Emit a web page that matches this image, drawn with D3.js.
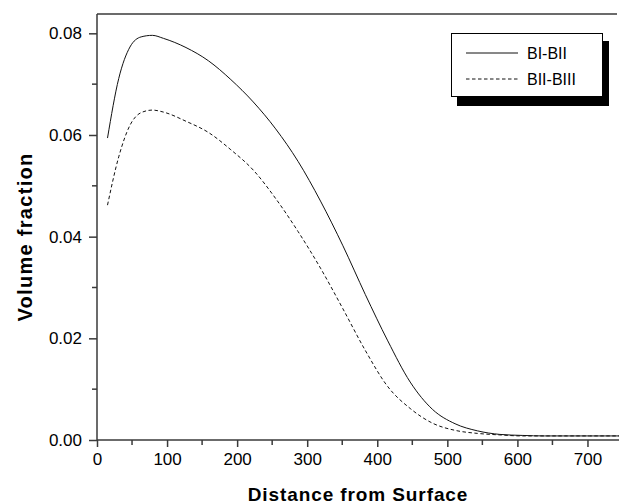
<!DOCTYPE html>
<html>
<head>
<meta charset="utf-8">
<script src="https://cdn.jsdelivr.net/npm/d3@7"></script>
<style>
  html, body { margin: 0; padding: 0; background: #fff; }
  svg { display: block; font-family: "Liberation Sans", Arial, sans-serif; }
</style>
</head>
<body>
<svg id="chart" width="619" height="504"></svg>
<script>
// ---- data ----
const distance = [15, 31, 47, 63, 79, 95, 127, 159, 191, 223, 255, 287, 319, 351, 383, 415, 447, 479, 511, 543, 575, 607, 639, 671, 703, 745];
const biBii   = [0.0594, 0.0711, 0.0773, 0.0793, 0.0796, 0.0790, 0.0772, 0.0746, 0.0709, 0.0665, 0.0612, 0.0548, 0.0470, 0.0382, 0.0286, 0.0195, 0.0114, 0.0060, 0.0032, 0.0018, 0.0011, 0.0009, 0.0008, 0.0008, 0.0008, 0.0008];
const biiBiii = [0.0462, 0.0557, 0.0619, 0.0644, 0.0649, 0.0645, 0.0627, 0.0605, 0.0571, 0.0531, 0.0475, 0.0410, 0.0338, 0.0258, 0.0176, 0.0105, 0.0062, 0.0033, 0.0019, 0.0013, 0.0010, 0.0008, 0.0008, 0.0008, 0.0008, 0.0008];
const seriesNames = ["BI-BII", "BII-BIII"];
const xTicks = [0, 100, 200, 300, 400, 500, 600, 700];
const yTicks = [0.00, 0.02, 0.04, 0.06, 0.08];
const xTitle = "Distance from Surface";
const yTitle = "Volume fraction";

// ---- layout ----
const svg = d3.select("#chart");
const mLeft = 97, mRight = 619, mTop = 14, mBottom = 440;
const x = d3.scaleLinear().domain([0, 745]).range([mLeft, mRight]);
const y = d3.scaleLinear().domain([0, 0.0838]).range([mBottom, mTop]);
const axisColor = "#3a3a3a";

// top frame line
svg.append("line")
  .attr("x1", mLeft).attr("x2", 617).attr("y1", mTop).attr("y2", mTop)
  .attr("stroke", axisColor).attr("stroke-width", 1.5);

// x axis
const xMinor = d3.range(50, 750, 100);
const gx = svg.append("g").attr("transform", `translate(0,${mBottom})`);
gx.call(d3.axisBottom(x).tickValues(xTicks).tickFormat(d3.format("d")).tickSize(7).tickSizeOuter(0).tickPadding(6));
gx.selectAll(".minor").data(xMinor).enter().append("line")
  .attr("class", "minor")
  .attr("x1", d => x(d)).attr("x2", d => x(d)).attr("y1", 0).attr("y2", 5)
  .attr("stroke", axisColor).attr("stroke-width", 1.5);

// y axis
const yMinor = [0.01, 0.03, 0.05, 0.07];
const gy = svg.append("g").attr("transform", `translate(${mLeft},0)`);
gy.call(d3.axisLeft(y).tickValues(yTicks).tickFormat(d3.format(".2f")).tickSize(8).tickSizeOuter(0).tickPadding(7));
gy.selectAll(".minor").data(yMinor).enter().append("line")
  .attr("class", "minor")
  .attr("x1", 0).attr("x2", -5).attr("y1", d => y(d)).attr("y2", d => y(d))
  .attr("stroke", axisColor).attr("stroke-width", 1.5);

[gx, gy].forEach(g => {
  g.select(".domain").attr("stroke", axisColor).attr("stroke-width", 1.5);
  g.selectAll(".tick line").attr("stroke", axisColor).attr("stroke-width", 1.5);
  g.selectAll(".tick text").attr("fill", "#000")
    .style("font-family", "'Liberation Sans', Arial, sans-serif").style("font-size", "17px");
});
gy.select(".domain").attr("d", `M0,${mTop}V${mBottom}`);
gx.select(".domain").attr("d", `M${mLeft},0H${mRight}`);

// titles
svg.append("text")
  .attr("x", (mLeft + mRight) / 2).attr("y", 501)
  .attr("text-anchor", "middle")
  .style("font-weight", "bold").style("font-size", "19px").style("letter-spacing", "0.9px")
  .text(xTitle);
svg.append("text")
  .attr("transform", `translate(32,237) rotate(-90)`)
  .attr("text-anchor", "middle")
  .style("font-weight", "bold").style("font-size", "20px").style("letter-spacing", "1.3px")
  .text(yTitle);

// lines
const series = [
  { name: seriesNames[0], values: biBii, dash: null },
  { name: seriesNames[1], values: biiBiii, dash: "3.5,2.5" }
];
const line = d3.line()
  .x((d, i) => x(distance[i]))
  .y(d => y(d))
  .curve(d3.curveMonotoneX);
series.forEach(s => {
  svg.append("path")
    .datum(s.values)
    .attr("d", line)
    .attr("fill", "none")
    .attr("stroke", "#111")
    .attr("stroke-width", 1)
    .attr("stroke-dasharray", s.dash);
});

// legend
const lg = svg.append("g");
lg.append("rect").attr("x", 457).attr("y", 41).attr("width", 152).attr("height", 65).attr("fill", "#000");
lg.append("rect").attr("x", 451.5).attr("y", 33.5).attr("width", 151).attr("height", 63)
  .attr("fill", "#fff").attr("stroke", "#000").attr("stroke-width", 1);
series.forEach((s, i) => {
  const ly = 53 + i * 26;
  lg.append("line").attr("x1", 466).attr("x2", 518).attr("y1", ly).attr("y2", ly)
    .attr("stroke", "#111").attr("stroke-width", 1).attr("stroke-dasharray", s.dash);
  lg.append("text").attr("x", 527).attr("y", ly + 5.5)
    .style("font-size", "16px").attr("fill", "#000").text(s.name);
});
</script>
</body>
</html>
